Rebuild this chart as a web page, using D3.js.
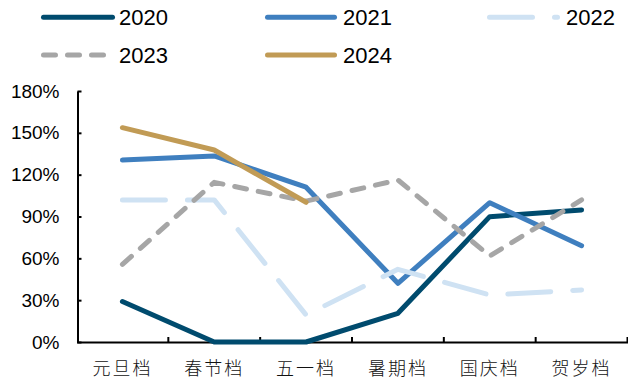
<!DOCTYPE html>
<html><head><meta charset="utf-8">
<script src="https://cdn.jsdelivr.net/npm/d3@7"></script>
<style>html,body{margin:0;padding:0;background:#fff;}svg{display:block;}</style>
</head><body>
<script>
const categories = ["元旦档","春节档","五一档","暑期档","国庆档","贺岁档"];
const s2020 = [29, 0, 0, 20.6, 89.9, 94.7];
const s2021 = [130.5, 133.4, 111, 42.1, 99.9, 69.1];
const s2022 = [101.9, 101.9, 19.4, 52.1, 33.7, 37.3];
const s2023 = [55.7, 114.5, 101, 116.2, 61.7, 101.9];
const s2024 = [153.7, 137.7, 100.2];
const seriesNames = ["2020","2021","2022","2023","2024"];
const yTicks = [0, 30, 60, 90, 120, 150, 180];

const W = 628, H = 381;
const colors = {"2020":"#004B6E","2021":"#3F7FBF","2022":"#CFE2F3","2023":"#A6A6A6","2024":"#C19B55"};
const dashes = {"2020":null,"2021":null,"2022":"43,22","2023":"12,12","2024":null};
const values = {"2020":s2020,"2021":s2021,"2022":s2022,"2023":s2023,"2024":s2024};

const svg = d3.select("body").append("svg").attr("width", W).attr("height", H);

const x = d3.scaleBand().domain(categories).range([76.5, 627.5]).paddingInner(0).paddingOuter(0);
const y = d3.scaleLinear().domain([0, 180]).range([342, 91]);

// y axis
const yAxis = d3.axisLeft(y).tickValues(yTicks).tickFormat(d => d + "%").tickSize(-4).tickPadding(18).tickSizeOuter(0);
const gy = svg.append("g").attr("transform", "translate(77.5,0)").call(yAxis);
gy.select(".domain").attr("stroke", "#000").attr("stroke-width", 2);
gy.selectAll(".tick line").attr("stroke", "#000").attr("stroke-width", 2);
gy.selectAll(".tick text").attr("font-family", "'Liberation Sans', Arial, sans-serif").attr("font-size", 19).attr("fill", "#000");

// x axis
const xAxis = d3.axisBottom(x).tickSize(0).tickPadding(0).tickSizeOuter(0);
const gx = svg.append("g").attr("transform", "translate(0," + y(0) + ")").call(xAxis);
gx.select(".domain").attr("stroke", "#000").attr("stroke-width", 2);
gx.selectAll(".tick text").attr("font-family", "'Noto Sans CJK SC', sans-serif").attr("font-weight", 300)
  .attr("font-size", 18).attr("letter-spacing", "2px").attr("fill", "#111").attr("y", 33).attr("dy", 0);
gx.selectAll(".bound").data(categories).enter().append("line").attr("class", "bound")
  .attr("x1", d => x(d) + x.bandwidth()).attr("x2", d => x(d) + x.bandwidth())
  .attr("y1", 0).attr("y2", -5).attr("stroke", "#000").attr("stroke-width", 2);

// lines
const line = d3.line().x((d, i) => x(categories[i]) + x.bandwidth() / 2).y(d => y(d));
seriesNames.forEach(name => {
  const p = svg.append("path").datum(values[name]).attr("d", line)
    .attr("fill", "none").attr("stroke", colors[name]).attr("stroke-width", 5)
    .attr("stroke-linecap", "round").attr("stroke-linejoin", "round");
  if (dashes[name]) p.attr("stroke-dasharray", dashes[name]);
});

// legend
const legendPos = {
  "2020": {x1: 43.5, x2: 112.5, tx: 119, y: 17.3},
  "2021": {x1: 267.5, x2: 334.5, tx: 343, y: 17.3},
  "2022": {x1: 489.5, x2: 557.5, tx: 566, y: 17.3},
  "2023": {x1: 43.5, x2: 112.5, tx: 119, y: 55},
  "2024": {x1: 267.5, x2: 334.5, tx: 343, y: 55}
};
const lg = svg.append("g");
seriesNames.forEach(name => {
  const p = legendPos[name];
  const l = lg.append("line").attr("x1", p.x1).attr("x2", p.x2).attr("y1", p.y).attr("y2", p.y)
    .attr("stroke", colors[name]).attr("stroke-width", 5).attr("stroke-linecap", "round");
  if (dashes[name]) l.attr("stroke-dasharray", dashes[name]);
  lg.append("text").attr("x", p.tx).attr("y", p.y + 8).text(name)
    .attr("font-family", "'Liberation Sans', Arial, sans-serif").attr("font-size", 22).attr("fill", "#000");
});
</script>
</body></html>
